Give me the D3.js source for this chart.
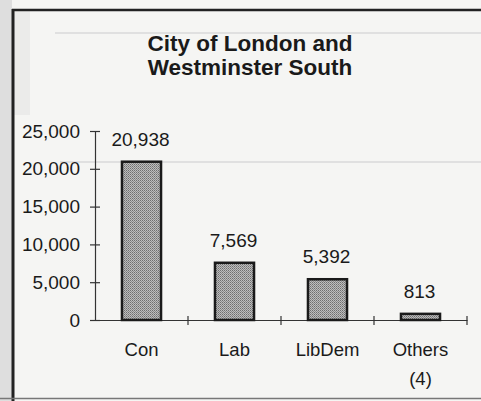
<!DOCTYPE html>
<html>
<head>
<meta charset="utf-8">
<script src="https://cdn.jsdelivr.net/npm/d3@7"></script>
<style>
  html, body { margin: 0; padding: 0; background: #f5f5f3; }
  svg { display: block; }
</style>
</head>
<body>
<svg id="chart"></svg>
<script>
const categories = ["Con", "Lab", "LibDem", "Others"];
const votes = [20938, 7569, 5392, 813];
const subLabels = ["", "", "", "(4)"];
const yTicks = [0, 5000, 10000, 15000, 20000, 25000];
const titleLines = ["City of London and", "Westminster South"];

const W = 481, H = 401;
const svg = d3.select("#chart").attr("width", W).attr("height", H);
const font = "'Liberation Sans', Arial, Helvetica, sans-serif";

// paper
svg.append("rect").attr("width", W).attr("height", H).attr("fill", "#f5f5f3");
svg.append("rect").attr("x", 0).attr("y", 0).attr("width", 12).attr("height", H).attr("fill", "#dedede");
svg.append("rect").attr("x", 14).attr("y", 11).attr("width", 16).attr("height", 104).attr("fill", "#ebebea");

// faint rules showing through from the other side of the page
svg.append("line").attr("x1", 55).attr("x2", W).attr("y1", 33).attr("y2", 33)
    .attr("stroke", "#e0e0e0").attr("stroke-width", 2);
svg.append("line").attr("x1", 60).attr("x2", W).attr("y1", 162).attr("y2", 162)
    .attr("stroke", "#e0e0e0").attr("stroke-width", 2);

// frame
svg.append("line").attr("x1", 12).attr("x2", W).attr("y1", 10).attr("y2", 10)
    .attr("stroke", "#222").attr("stroke-width", 2.5);
svg.append("line").attr("x1", 13).attr("x2", 13).attr("y1", 9).attr("y2", H)
    .attr("stroke", "#222").attr("stroke-width", 3);
svg.append("line").attr("x1", 0).attr("x2", W).attr("y1", 398.5).attr("y2", 398.5)
    .attr("stroke", "#777").attr("stroke-width", 1.5);

// title
svg.append("g").selectAll("text")
    .data(titleLines)
    .enter()
    .append("text")
    .attr("x", 250)
    .attr("y", (d, i) => 51 + i * 24)
    .attr("text-anchor", "middle")
    .style("font-family", font)
    .style("font-weight", "bold")
    .style("font-size", "22.5px")
    .style("fill", "#1a1a1a")
    .text(d => d);

// halftone fill for bars
const defs = svg.append("defs");
const pat = defs.append("pattern")
    .attr("id", "dots")
    .attr("width", 2).attr("height", 2)
    .attr("patternUnits", "userSpaceOnUse");
pat.append("rect").attr("width", 2).attr("height", 2).attr("fill", "#bdbdbd");
pat.append("rect").attr("width", 1).attr("height", 1).attr("fill", "#6e6e6e");
pat.append("rect").attr("x", 1).attr("y", 1).attr("width", 1).attr("height", 1).attr("fill", "#8a8a8a");

const x = d3.scaleBand().domain(categories).range([95, 467]).paddingInner(0).paddingOuter(0);
const y = d3.scaleLinear().domain([0, 25000]).range([320, 131]);
const barW = x.bandwidth() * 0.42;

// y axis
const yAxis = d3.axisLeft(y)
    .tickValues(yTicks)
    .tickFormat(d3.format(","))
    .tickSizeInner(5)
    .tickSizeOuter(0)
    .tickPadding(10);
const gy = svg.append("g").attr("transform", "translate(95,0)").call(yAxis);
gy.select(".domain").attr("stroke", "#333").attr("stroke-width", 1.2);
gy.selectAll(".tick line").attr("x1", 5).attr("x2", -5).attr("stroke", "#333").attr("stroke-width", 1.2);
gy.selectAll(".tick text")
    .style("font-family", font)
    .style("font-size", "19px")
    .style("fill", "#1a1a1a");

// x axis baseline and separators
const xAxis = d3.axisBottom(x).tickSize(0).tickFormat("");
const gx = svg.append("g").attr("transform", `translate(0,${y(0)})`).call(xAxis);
gx.select(".domain").attr("stroke", "#333").attr("stroke-width", 1.2);
gx.selectAll(".sep")
    .data(categories)
    .enter()
    .append("line")
    .attr("class", "sep")
    .attr("x1", d => x(d) + x.bandwidth())
    .attr("x2", d => x(d) + x.bandwidth())
    .attr("y1", -4)
    .attr("y2", 5)
    .attr("stroke", "#333")
    .attr("stroke-width", 1.2);

// bars
svg.append("g").selectAll("rect")
    .data(categories)
    .enter()
    .append("rect")
    .attr("x", d => x(d) + (x.bandwidth() - barW) / 2)
    .attr("y", (d, i) => y(votes[i]))
    .attr("width", barW)
    .attr("height", (d, i) => y(0) - y(votes[i]))
    .attr("fill", "url(#dots)")
    .attr("stroke", "#1a1a1a")
    .attr("stroke-width", 2.5);

// value labels
svg.append("g").selectAll("text")
    .data(categories)
    .enter()
    .append("text")
    .attr("x", d => x(d) + x.bandwidth() / 2 - 1)
    .attr("y", (d, i) => y(votes[i]) - 16)
    .attr("text-anchor", "middle")
    .style("font-family", font)
    .style("font-size", "19px")
    .style("fill", "#1a1a1a")
    .text((d, i) => d3.format(",")(votes[i]));

// category labels
const cat = svg.append("g").selectAll("text")
    .data(categories)
    .enter()
    .append("text")
    .attr("x", d => x(d) + x.bandwidth() / 2)
    .attr("y", 356)
    .attr("text-anchor", "middle")
    .style("font-family", font)
    .style("font-size", "18.5px")
    .style("fill", "#1a1a1a");
cat.append("tspan").text(d => d);
cat.append("tspan")
    .attr("x", d => x(d) + x.bandwidth() / 2)
    .attr("dy", 29)
    .text((d, i) => subLabels[i]);
</script>
</body>
</html>
